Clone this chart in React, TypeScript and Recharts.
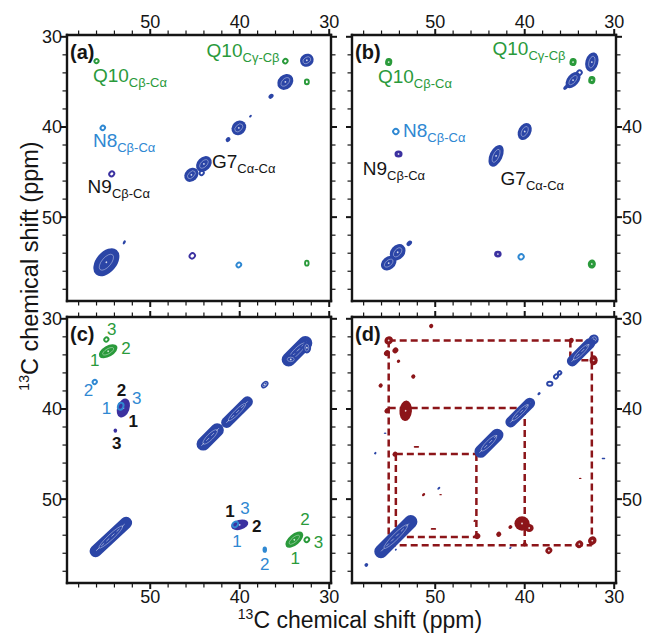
import React from 'react';
import { ScatterChart, Scatter, XAxis, YAxis, ReferenceLine } from 'recharts';

const FONT = '"Liberation Sans", Arial, Helvetica, sans-serif';

const BLUE = '#2b45a6';
const DEEP = '#3b31a0';
const GREEN = '#2a9a3b';
const LIGHT = '#2f88d2';
const RED = '#8c1519';
const INK = '#151515';

// both dimensions: 13C shift in ppm, high values to the left / bottom
const X_DOMAIN: [number, number] = [29.8, 59.3];
const Y_DOMAIN: [number, number] = [29.8, 59.3];
const TICKS = [30, 32, 34, 36, 38, 40, 42, 44, 46, 48, 50, 52, 54, 56, 58];
const LABELED = [30, 40, 50];

// x, y: peak position (ppm); l, w: half extent along / across the peak axis (ppm);
// a: orientation of the peak axis (deg, -45 = along the diagonal); lv: contour levels
type Peak = { x: number; y: number; l: number; w: number; a?: number; lv?: number };
type Note = { x: number; y: number; t: string; s?: string; res: string };
type Guide = { x1: number; y1: number; x2: number; y2: number };

// --- (a) ---
const A_BLUE: Peak[] = [
  { x: 32.5, y: 32.6, l: 0.78, w: 0.72, a: -30, lv: 3 },
  { x: 34.9, y: 35.0, l: 0.98, w: 0.8, lv: 3 },
  { x: 36.5, y: 36.6, l: 0.32, w: 0.24, lv: 2 },
  { x: 38.8, y: 38.8, l: 0.18, w: 0.12, lv: 2 },
  { x: 40.1, y: 40.1, l: 0.88, w: 0.76, lv: 3 },
  { x: 41.3, y: 41.4, l: 0.3, w: 0.24, lv: 2 },
  { x: 44.0, y: 44.1, l: 0.98, w: 0.76, lv: 3 },
  { x: 45.4, y: 45.3, l: 0.88, w: 0.7, lv: 3 },
  { x: 52.9, y: 52.8, l: 0.25, w: 0.14, a: -60, lv: 2 },
  { x: 54.9, y: 55.0, l: 1.8, w: 1.15, a: -50, lv: 3 },
];
const A_BLUE_RING: Peak[] = [{ x: 44.25, y: 45.1, l: 0.25, w: 0.22, lv: 1 }];
const A_GREEN: Peak[] = [
  { x: 56.0, y: 32.7, l: 0.24, w: 0.22, lv: 1 },
  { x: 34.9, y: 32.7, l: 0.26, w: 0.24, lv: 1 },
  { x: 32.5, y: 35.0, l: 0.26, w: 0.22, a: -90, lv: 1 },
  { x: 32.5, y: 55.1, l: 0.28, w: 0.2, a: -90, lv: 1 },
];
const A_LIGHT: Peak[] = [
  { x: 55.3, y: 40.1, l: 0.26, w: 0.24, lv: 1 },
  { x: 40.1, y: 55.3, l: 0.28, w: 0.24, lv: 1 },
];
const A_DEEP: Peak[] = [
  { x: 54.3, y: 45.2, l: 0.3, w: 0.26, lv: 1 },
  { x: 45.3, y: 54.3, l: 0.32, w: 0.28, lv: 1 },
];
const A_NOTES: Note[] = [
  { x: 56.4, y: 35.0, t: 'Q10', s: 'Cβ-Cα', res: 'Q10' },
  { x: 43.7, y: 32.2, t: 'Q10', s: 'Cγ-Cβ', res: 'Q10' },
  { x: 56.4, y: 42.2, t: 'N8', s: 'Cβ-Cα', res: 'N8' },
  { x: 57.0, y: 47.3, t: 'N9', s: 'Cβ-Cα', res: 'N9' },
  { x: 43.1, y: 44.5, t: 'G7', s: 'Cα-Cα', res: 'G7' },
];

// --- (b) ---
const B_BLUE: Peak[] = [
  { x: 32.5, y: 32.8, l: 1.1, w: 0.72, a: -75, lv: 3 },
  { x: 34.6, y: 34.8, l: 1.05, w: 0.65, a: -50, lv: 3 },
  { x: 35.4, y: 35.6, l: 0.35, w: 0.2, lv: 2 },
  { x: 40.0, y: 40.5, l: 1.0, w: 0.72, a: -62, lv: 3 },
  { x: 43.2, y: 43.2, l: 1.3, w: 0.72, a: -65, lv: 3 },
  { x: 52.9, y: 52.9, l: 0.35, w: 0.25, lv: 2 },
  { x: 54.2, y: 53.9, l: 1.0, w: 0.78, a: -50, lv: 3 },
  { x: 55.2, y: 55.1, l: 0.95, w: 0.72, a: -40, lv: 3 },
];
const B_BLUE_RING: Peak[] = [{ x: 33.9, y: 34.0, l: 0.3, w: 0.25, lv: 1 }];
const B_DEEP: Peak[] = [
  { x: 54.1, y: 43.0, l: 0.45, w: 0.4, a: 0, lv: 2 },
  { x: 43.0, y: 54.1, l: 0.42, w: 0.38, a: 0, lv: 2 },
];
const B_GREEN: Peak[] = [
  { x: 55.2, y: 32.8, l: 0.45, w: 0.4, a: -80, lv: 2 },
  { x: 34.6, y: 32.8, l: 0.45, w: 0.4, a: -80, lv: 2 },
  { x: 32.5, y: 34.8, l: 0.45, w: 0.4, a: -80, lv: 2 },
  { x: 32.5, y: 55.2, l: 0.5, w: 0.45, a: -80, lv: 2 },
];
const B_LIGHT: Peak[] = [
  { x: 54.4, y: 40.5, l: 0.3, w: 0.3, lv: 1 },
  { x: 40.4, y: 54.4, l: 0.3, w: 0.28, lv: 1 },
];
const B_NOTES: Note[] = [
  { x: 56.4, y: 35.1, t: 'Q10', s: 'Cβ-Cα', res: 'Q10' },
  { x: 43.6, y: 32.0, t: 'Q10', s: 'Cγ-Cβ', res: 'Q10' },
  { x: 53.6, y: 41.1, t: 'N8', s: 'Cβ-Cα', res: 'N8' },
  { x: 58.1, y: 45.3, t: 'N9', s: 'Cβ-Cα', res: 'N9' },
  { x: 42.7, y: 46.4, t: 'G7', s: 'Cα-Cα', res: 'G7' },
];

// --- (c) ---
const C_BLUE: Peak[] = [
  { x: 33.6, y: 33.6, l: 2.1, w: 0.78, lv: 4 },
  { x: 34.3, y: 34.5, l: 0.65, w: 0.55, a: 0, lv: 3 },
  { x: 32.5, y: 33.2, l: 0.65, w: 0.48, a: -90, lv: 3 },
  { x: 37.2, y: 37.3, l: 0.48, w: 0.34, lv: 3 },
  { x: 40.3, y: 40.35, l: 2.25, w: 0.62, lv: 4 },
  { x: 43.3, y: 43.1, l: 1.85, w: 0.75, lv: 4 },
  { x: 54.4, y: 54.2, l: 3.0, w: 0.68, a: -43, lv: 4 },
];
const C_DEEP: Peak[] = [
  { x: 53.0, y: 39.9, l: 1.1, w: 0.68, a: -70, lv: 2 },
  { x: 53.9, y: 42.4, l: 0.25, w: 0.2, a: -90, lv: 2 },
  { x: 40.0, y: 52.85, l: 0.98, w: 0.55, a: -15, lv: 2 },
];
const C_LIGHT: Peak[] = [
  { x: 56.2, y: 37.0, l: 0.25, w: 0.22, lv: 1 },
  { x: 53.3, y: 39.7, l: 0.4, w: 0.3, a: -70, lv: 1 },
  { x: 40.5, y: 52.8, l: 0.35, w: 0.28, lv: 1 },
  { x: 37.2, y: 55.6, l: 0.35, w: 0.25, a: -90, lv: 2 },
];
const C_GREEN: Peak[] = [
  { x: 54.7, y: 33.6, l: 1.15, w: 0.62, a: -30, lv: 3 },
  { x: 54.9, y: 32.3, l: 0.25, w: 0.22, lv: 1 },
  { x: 33.9, y: 54.5, l: 1.2, w: 0.62, a: -40, lv: 3 },
  { x: 32.5, y: 54.5, l: 0.28, w: 0.24, lv: 1 },
];
const C_NOTES: Note[] = [
  { x: 54.3, y: 31.2, t: '3', res: 'Q10' },
  { x: 52.7, y: 33.3, t: '2', res: 'Q10' },
  { x: 56.2, y: 34.6, t: '1', res: 'Q10' },
  { x: 56.9, y: 37.9, t: '2', res: 'N8' },
  { x: 53.2, y: 37.9, t: '2', res: 'N9' },
  { x: 51.5, y: 38.8, t: '3', res: 'N8' },
  { x: 54.9, y: 39.9, t: '1', res: 'N8' },
  { x: 51.9, y: 41.4, t: '1', res: 'N9' },
  { x: 53.75, y: 43.8, t: '3', res: 'N9' },
  { x: 41.1, y: 51.4, t: '1', res: 'N9' },
  { x: 39.4, y: 51.0, t: '3', res: 'N8' },
  { x: 38.1, y: 53.0, t: '2', res: 'N9' },
  { x: 40.3, y: 54.7, t: '1', res: 'N8' },
  { x: 37.2, y: 57.3, t: '2', res: 'N8' },
  { x: 32.7, y: 52.3, t: '2', res: 'Q10' },
  { x: 31.2, y: 54.8, t: '3', res: 'Q10' },
  { x: 33.8, y: 56.6, t: '1', res: 'Q10' },
];

// --- (d) ---
const D_BLUE: Peak[] = [
  { x: 32.3, y: 32.3, l: 0.58, w: 0.55, lv: 3 },
  { x: 33.7, y: 33.7, l: 2.0, w: 0.6, lv: 4 },
  { x: 38.4, y: 38.3, l: 0.2, w: 0.15, lv: 2 },
  { x: 40.5, y: 40.4, l: 2.1, w: 0.6, lv: 4 },
  { x: 44.0, y: 43.8, l: 2.0, w: 0.7, lv: 4 },
  { x: 54.4, y: 54.15, l: 3.1, w: 0.75, lv: 4 },
  { x: 57.7, y: 57.3, l: 0.22, w: 0.2, lv: 2 },
  { x: 56.7, y: 44.9, l: 0.15, w: 0.12, lv: 2 },
  { x: 55.6, y: 42.7, l: 0.15, w: 0.08, a: 0, lv: 2 },
  { x: 49.6, y: 48.8, l: 0.2, w: 0.12, lv: 2 },
  { x: 31.2, y: 45.5, l: 0.2, w: 0.08, a: 0, lv: 2 },
  { x: 41.6, y: 55.4, l: 0.15, w: 0.1, lv: 2 },
  { x: 54.4, y: 55.6, l: 0.12, w: 0.1, lv: 2 },
];
const D_BLUE_RING: Peak[] = [
  { x: 37.2, y: 37.2, l: 0.3, w: 0.22, a: 0, lv: 1 },
  { x: 36.5, y: 36.4, l: 0.25, w: 0.2, lv: 1 },
  { x: 36.1, y: 36.0, l: 0.2, w: 0.18, lv: 1 },
];
const D_RED: Peak[] = [
  { x: 55.2, y: 32.4, l: 0.5, w: 0.45, lv: 2 },
  { x: 55.4, y: 33.8, l: 0.35, w: 0.3, lv: 2 },
  { x: 54.45, y: 33.5, l: 0.35, w: 0.3, lv: 2 },
  { x: 54.1, y: 34.7, l: 0.2, w: 0.18, lv: 2 },
  { x: 50.45, y: 30.8, l: 0.25, w: 0.22, lv: 2 },
  { x: 52.45, y: 36.4, l: 0.25, w: 0.22, lv: 2 },
  { x: 56.1, y: 37.4, l: 0.25, w: 0.22, lv: 2 },
  { x: 53.3, y: 40.2, l: 1.15, w: 0.7, a: -85, lv: 2 },
  { x: 55.4, y: 40.2, l: 0.3, w: 0.26, lv: 2 },
  { x: 52.1, y: 44.2, l: 0.3, w: 0.1, a: 0, lv: 2 },
  { x: 54.5, y: 45.0, l: 0.3, w: 0.26, lv: 2 },
  { x: 51.3, y: 49.5, l: 0.2, w: 0.15, lv: 2 },
  { x: 49.4, y: 49.5, l: 0.15, w: 0.08, a: 0, lv: 2 },
  { x: 45.6, y: 52.4, l: 0.15, w: 0.1, lv: 2 },
  { x: 50.2, y: 53.3, l: 0.3, w: 0.1, a: 0, lv: 2 },
  { x: 45.3, y: 54.1, l: 0.35, w: 0.32, lv: 2 },
  { x: 42.9, y: 53.9, l: 0.3, w: 0.27, lv: 2 },
  { x: 41.6, y: 53.1, l: 0.22, w: 0.2, lv: 2 },
  { x: 40.3, y: 52.7, l: 0.85, w: 0.8, a: 0, lv: 2 },
  { x: 39.5, y: 53.2, l: 0.5, w: 0.45, a: 0, lv: 2 },
  { x: 40.0, y: 55.0, l: 0.25, w: 0.22, lv: 2 },
  { x: 37.3, y: 55.7, l: 0.4, w: 0.36, lv: 2 },
  { x: 33.9, y: 55.0, l: 0.45, w: 0.4, lv: 2 },
  { x: 32.45, y: 54.6, l: 0.5, w: 0.45, lv: 2 },
  { x: 33.8, y: 47.7, l: 0.15, w: 0.08, a: 0, lv: 2 },
  { x: 34.8, y: 32.4, l: 0.3, w: 0.27, lv: 2 },
  { x: 32.3, y: 34.6, l: 0.55, w: 0.45, a: -90, lv: 2 },
  { x: 40.6, y: 40.0, l: 0.2, w: 0.18, lv: 2 },
];
const D_GUIDES: Guide[] = [
  { x1: 55.2, y1: 32.4, x2: 32.5, y2: 32.4 },
  { x1: 55.2, y1: 32.4, x2: 55.2, y2: 55.1 },
  { x1: 32.5, y1: 32.4, x2: 32.5, y2: 55.1 },
  { x1: 55.2, y1: 55.1, x2: 32.5, y2: 55.1 },
  { x1: 55.2, y1: 39.9, x2: 40.0, y2: 39.9 },
  { x1: 40.0, y1: 39.9, x2: 40.0, y2: 55.1 },
  { x1: 54.4, y1: 45.0, x2: 45.4, y2: 45.0 },
  { x1: 54.4, y1: 45.0, x2: 54.4, y2: 54.2 },
  { x1: 45.4, y1: 45.0, x2: 45.4, y2: 54.2 },
  { x1: 54.4, y1: 54.2, x2: 45.4, y2: 54.2 },
  { x1: 34.9, y1: 32.4, x2: 34.9, y2: 34.6 },
  { x1: 34.9, y1: 34.6, x2: 32.5, y2: 34.6 },
];

const RES_COLOR: Record<string, string> = { Q10: GREEN, N8: LIGHT, N9: INK, G7: INK };

// --- layout ---
const PLOT_W = 264;
const PLOT_H = 266;
const AX_W = 40;
const AX_H = 30;
const PPM_PX = PLOT_W / (X_DOMAIN[1] - X_DOMAIN[0]);

const drawPeak = (color: string) => (props: any) => {
  const { cx, cy, payload } = props;
  if (cx == null || cy == null) return <g />;
  const { l, w, a = -45, lv = 2 } = payload as Peak;
  const rx = l * PPM_PX;
  const ry = w * PPM_PX;
  const rot = `rotate(${a} ${cx} ${cy})`;
  if (lv <= 1) {
    return <ellipse cx={cx} cy={cy} rx={rx} ry={ry} transform={rot} fill="none" stroke={color} strokeWidth={1.9} />;
  }
  // long ridges read better as capsules than as tapered ellipses
  const body = rx / ry > 2
    ? <rect x={cx - rx} y={cy - ry} width={2 * rx} height={2 * ry} rx={ry} ry={ry} fill={color} />
    : <ellipse cx={cx} cy={cy} rx={rx} ry={ry} fill={color} />;
  return (
    <g transform={rot}>
      {body}
      {lv >= 3 && (
        <ellipse cx={cx} cy={cy} rx={rx * 0.6} ry={ry * 0.45} fill="none" stroke="#fff" strokeOpacity={0.45} strokeWidth={0.8} />
      )}
      {lv >= 4 && (
        <line x1={cx - rx * 0.75} y1={cy} x2={cx + rx * 0.75} y2={cy} stroke="#fff" strokeOpacity={0.6} strokeWidth={0.8} strokeDasharray="4 3" />
      )}
      {rx >= 3.5 && lv < 4 && <circle cx={cx} cy={cy} r={0.9} fill="#fff" opacity={0.8} />}
    </g>
  );
};

const drawNote = (props: any) => {
  const { cx, cy, payload } = props;
  const n = payload as Note;
  const fill = RES_COLOR[n.res];
  if (n.s) {
    return (
      <text x={cx} y={cy} fill={fill} fontFamily={FONT} fontSize={19}>
        {n.t}
        <tspan fontSize={13} dy={5}>{n.s}</tspan>
      </text>
    );
  }
  return (
    <text x={cx} y={cy} fill={fill} fontFamily={FONT} fontSize={17} fontWeight={n.res === 'N9' ? 700 : 400} textAnchor="middle" dominantBaseline="central">
      {n.t}
    </text>
  );
};

const makeTick = (side: 't' | 'b' | 'l' | 'r', shown: number[]) => (props: any) => {
  const { x, y, payload } = props;
  const v = payload.value;
  const major = v % 10 === 0;
  const len = major ? 6 : 4.5;
  const sw = major ? 2 : 1.2;
  const lab = shown.includes(v) ? String(v) : null;
  const txt = { fontSize: 18, fontFamily: FONT, fill: INK };
  if (side === 't') {
    return (
      <g>
        <line x1={x} y1={y} x2={x} y2={y - len} stroke={INK} strokeWidth={sw} />
        {lab && <text x={x} y={y - 7} textAnchor="middle" {...txt}>{lab}</text>}
      </g>
    );
  }
  if (side === 'b') {
    return (
      <g>
        <line x1={x} y1={y} x2={x} y2={y + len} stroke={INK} strokeWidth={sw} />
        {lab && <text x={x} y={y + 20} textAnchor="middle" {...txt}>{lab}</text>}
      </g>
    );
  }
  if (side === 'l') {
    return (
      <g>
        <line x1={x} y1={y} x2={x - len} y2={y} stroke={INK} strokeWidth={sw} />
        {lab && <text x={x - 5} y={y + 6.5} textAnchor="end" {...txt}>{lab}</text>}
      </g>
    );
  }
  return (
    <g>
      <line x1={x} y1={y} x2={x + len} y2={y} stroke={INK} strokeWidth={sw} />
      {lab && <text x={x + 6} y={y + 6.5} textAnchor="start" {...txt}>{lab}</text>}
    </g>
  );
};

const AXIS_LINE = { stroke: INK, strokeWidth: 2.4, strokeLinecap: 'square' as const };

const peaks = (data: Peak[], color: string, key: string) => (
  <Scatter key={key} data={data} xAxisId="b" yAxisId="l" shape={drawPeak(color)} isAnimationActive={false} />
);
const notes = (data: Note[], key: string) => (
  <Scatter key={key} data={data} xAxisId="b" yAxisId="l" shape={drawNote} isAnimationActive={false} />
);

type Shown = { t: number[]; b: number[]; l: number[]; r: number[] };

const Panel: React.FC<{ left: number; top: number; shown: Shown; children: React.ReactNode }> = ({ left, top, shown, children }) => (
  <div style={{ position: 'absolute', left: left - AX_W, top: top - AX_H }}>
    <ScatterChart width={PLOT_W + 2 * AX_W} height={PLOT_H + 2 * AX_H} margin={{ top: 0, right: 0, bottom: 0, left: 0 }}>
      {(['b', 't'] as const).map(s => (
        <XAxis key={s} xAxisId={s} orientation={s === 'b' ? 'bottom' : 'top'} type="number" dataKey="x" domain={X_DOMAIN}
          allowDataOverflow reversed ticks={TICKS} interval={0} height={AX_H} tickSize={0} tickMargin={0}
          axisLine={AXIS_LINE} tickLine={false} tick={makeTick(s, shown[s])} />
      ))}
      {(['l', 'r'] as const).map(s => (
        <YAxis key={s} yAxisId={s} orientation={s === 'l' ? 'left' : 'right'} type="number" dataKey="y" domain={Y_DOMAIN}
          allowDataOverflow reversed ticks={TICKS} interval={0} width={AX_W} tickSize={0} tickMargin={0}
          axisLine={AXIS_LINE} tickLine={false} tick={makeTick(s, shown[s])} />
      ))}
      {children}
    </ScatterChart>
  </div>
);

const PANELS = [
  { tag: '(a)', left: 67, top: 35 },
  { tag: '(b)', left: 352, top: 35 },
  { tag: '(c)', left: 67, top: 317 },
  { tag: '(d)', left: 352, top: 317 },
];

const App: React.FC = () => (
  <div style={{ position: 'absolute', left: 0, top: 0, width: 645, height: 633, overflow: 'hidden', background: '#fff', fontFamily: FONT }}>
    <Panel left={67} top={35} shown={{ t: LABELED, b: [], l: LABELED, r: [] }}>
      {peaks(A_BLUE, BLUE, 'ab')}
      {peaks(A_BLUE_RING, BLUE, 'abr')}
      {peaks(A_GREEN, GREEN, 'ag')}
      {peaks(A_LIGHT, LIGHT, 'al')}
      {peaks(A_DEEP, DEEP, 'ad')}
      {notes(A_NOTES, 'an')}
    </Panel>
    <Panel left={352} top={35} shown={{ t: LABELED, b: [], l: [], r: [40, 50] }}>
      {peaks(B_BLUE, BLUE, 'bb')}
      {peaks(B_BLUE_RING, BLUE, 'bbr')}
      {peaks(B_DEEP, DEEP, 'bd')}
      {peaks(B_GREEN, GREEN, 'bg')}
      {peaks(B_LIGHT, LIGHT, 'bl')}
      {notes(B_NOTES, 'bn')}
    </Panel>
    <Panel left={67} top={317} shown={{ t: [], b: LABELED, l: LABELED, r: [] }}>
      {peaks(C_BLUE, BLUE, 'cb')}
      {peaks(C_DEEP, DEEP, 'cd')}
      {peaks(C_LIGHT, LIGHT, 'cl')}
      {peaks(C_GREEN, GREEN, 'cg')}
      {notes(C_NOTES, 'cn')}
    </Panel>
    <Panel left={352} top={317} shown={{ t: [], b: LABELED, l: [], r: LABELED }}>
      {D_GUIDES.map((g, i) => (
        <ReferenceLine key={`g${i}`} xAxisId="b" yAxisId="l" segment={[{ x: g.x1, y: g.y1 }, { x: g.x2, y: g.y2 }]}
          stroke={RED} strokeWidth={2.5} strokeDasharray="7 4" ifOverflow="visible" />
      ))}
      {peaks(D_RED, RED, 'dr')}
      {peaks(D_BLUE, BLUE, 'db')}
      {peaks(D_BLUE_RING, BLUE, 'dbr')}
    </Panel>
    <svg width={645} height={633} style={{ position: 'absolute', left: 0, top: 0, pointerEvents: 'none' }}>
      {PANELS.map(p => (
        <text key={p.tag} x={p.left + 3} y={p.top + 24} fontFamily={FONT} fontSize={20} fontWeight={700} fill={INK}>{p.tag}</text>
      ))}
      <text transform="rotate(-90)" x={-266} y={38} textAnchor="middle" fontFamily={FONT} fontSize={23.5} fill={INK}>
        <tspan fontSize={14} dy={-9}>13</tspan>
        <tspan dy={9}>C chemical shift (ppm)</tspan>
      </text>
      <text x={360} y={628} textAnchor="middle" fontFamily={FONT} fontSize={23} fill={INK}>
        <tspan fontSize={14} dy={-9}>13</tspan>
        <tspan dy={9}>C chemical shift (ppm)</tspan>
      </text>
    </svg>
  </div>
);

export default App;
